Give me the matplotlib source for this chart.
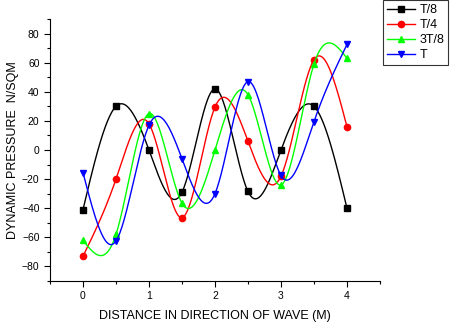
import numpy as np
import matplotlib
matplotlib.use("Agg")
import matplotlib.pyplot as plt
from matplotlib.ticker import MultipleLocator

plt.rcParams['font.family'] = ['Liberation Sans', 'DejaVu Sans']

x = [0, 0.5, 1, 1.5, 2, 2.5, 3, 3.5, 4]
t8 = [-41, 30, 0, -29, 42, -28.5, 0, 30, -40]
t4 = [-73, -20, 18, -46.5, 29.5, 6, -18, 62, 16]
t38 = [-62, -58, 25, -36.5, 0, 38, -24, 59, 63]
tt = [-15.5, -62.5, 17, -6, -30, 47, -17.5, 19.5, 72.5]

series = [("T/8", t8, "black", "s"), ("T/4", t4, "red", "o"),
          ("3T/8", t38, "#00ff00", "^"), ("T", tt, "blue", "v")]


def natural_spline(xs, ys, n=400):
    xs = np.asarray(xs, float); ys = np.asarray(ys, float)
    m = len(xs); h = np.diff(xs)
    A = np.zeros((m, m)); b = np.zeros(m)
    A[0, 0] = 1; A[-1, -1] = 1
    for i in range(1, m - 1):
        A[i, i - 1] = h[i - 1]; A[i, i] = 2 * (h[i - 1] + h[i]); A[i, i + 1] = h[i]
        b[i] = 3 * ((ys[i + 1] - ys[i]) / h[i] - (ys[i] - ys[i - 1]) / h[i - 1])
    c = np.linalg.solve(A, b)
    xf = np.linspace(xs[0], xs[-1], n)
    idx = np.clip(np.searchsorted(xs, xf) - 1, 0, m - 2)
    dx = xf - xs[idx]
    bb = (ys[1:] - ys[:-1]) / h - h * (2 * c[:-1] + c[1:]) / 3
    d = (c[1:] - c[:-1]) / (3 * h)
    yf = ys[idx] + bb[idx] * dx + c[idx] * dx ** 2 + d[idx] * dx ** 3
    return xf, yf


fig = plt.figure(figsize=(4.56, 3.26), dpi=100)
ax = fig.add_axes([0.1096, 0.138, 0.7237, 0.8037])

handles = []
for name, ys, col, mk in series:
    xf, yf = natural_spline(x, ys)
    ax.plot(xf, yf, color=col, lw=1.0)
    ax.plot(x, ys, linestyle='none', marker=mk, color=col, ms=4.5)
    h, = ax.plot([], [], color=col, marker=mk, ms=4.5, lw=1.0, label=name)
    handles.append(h)

ax.set_xlim(-0.5, 4.5)
ax.set_ylim(-90, 90)
ax.set_xticks([0, 1, 2, 3, 4])
ax.set_yticks(np.arange(-80, 81, 20))
ax.xaxis.set_minor_locator(MultipleLocator(0.5))
ax.yaxis.set_minor_locator(MultipleLocator(10))
ax.tick_params(which='major', direction='out', length=4, labelsize=7.5, width=0.8)
ax.tick_params(which='minor', direction='out', length=2, width=0.8)
for s in ['top', 'right']:
    ax.spines[s].set_visible(False)
ax.set_xlabel("DISTANCE IN DIRECTION OF WAVE (M)", fontsize=9, labelpad=6)
ax.set_ylabel("DYNAMIC PRESSURE  N/SQM", fontsize=9, labelpad=2)

leg = fig.legend(handles=handles, loc='lower left', bbox_to_anchor=(383 / 456, 1 - 65 / 326),
                 fontsize=9, frameon=True, fancybox=False, edgecolor='black',
                 handlelength=2.3, handletextpad=0.3, borderpad=0.3, labelspacing=0.25,
                 borderaxespad=0)
leg.get_frame().set_linewidth(0.8)

fig.savefig("out.png", dpi=100)
